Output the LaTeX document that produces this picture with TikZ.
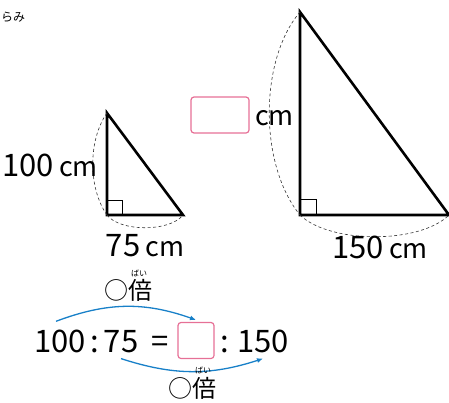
\documentclass[tikz,border=0pt]{standalone}
\usepackage{fontspec}
\setmainfont{Noto Sans CJK JP}
\usetikzlibrary{arrows.meta,positioning}

\definecolor{arrowblue}{RGB}{24,128,200}
\definecolor{boxpink}{RGB}{230,112,150}
\newcommand{\cmsize}{\fontsize{27}{27}\selectfont}

\begin{document}
\begin{tikzpicture}[
	x=1pt,y=-1pt,
	>=Latex,
	every node/.style={inner sep=0pt},
	big/.style={font=\fontsize{31}{31}\selectfont},
	ruby/.style={font=\fontsize{8}{8}\selectfont},
	times/.style={font=\fontsize{24}{24}\selectfont},
	ansbox/.style={draw=boxpink, line width=1.2pt, rounded corners=3pt},
	side/.style={line width=2.6pt, line join=miter},
	dimarc/.style={dash pattern=on 3pt off 2.5pt, line width=0.6pt, black!80},
	mult/.style={-{Latex[length=6pt,width=5pt]}, arrowblue, line width=1.3pt}
	]
	
	\useasboundingbox (0,0) rectangle (449,402);
	
	% --------------------------
	% text fragment at top left
	% --------------------------
	\node[anchor=west, font=\fontsize{12}{12}\selectfont] (frag) at (1,17) {らみ};
	
	% --------------------------
	% Small triangle
	% --------------------------
	\coordinate (a1) at (107,113);
	\coordinate (b1) at (107,215);
	\coordinate (c1) at (183,215);
	\draw[side] (a1) -- (b1) -- (c1) -- cycle;
	\draw[line width=0.9pt] ([yshift=15pt]b1) -| ([xshift=15pt]b1);
	
	% dimension arcs
	\draw[dimarc] (a1) .. controls (88,140) and (88,188) .. (b1);
	\draw[dimarc] (b1) .. controls (120,232) and (170,232) .. (c1);
	
	% labels
	\node[big, anchor=base east] (len100) at (98,176) {100\,{\cmsize cm}};
	\node[big, anchor=base] (len75) at (145,256) {75\,{\cmsize cm}};
	
	% --------------------------
	% Large triangle
	% --------------------------
	\coordinate (a2) at (300,12);
	\coordinate (b2) at (300,215);
	\coordinate (c2) at (449,215);
	\draw[side] (a2) -- (b2) -- (c2) -- cycle;
	\draw[line width=0.9pt] ([yshift=16pt]b2) -| ([xshift=16pt]b2);
	
	% dimension arcs
	\draw[dimarc] (a2) .. controls (259,60) and (259,165) .. (b2);
	\draw[dimarc] (b2) .. controls (330,244) and (420,244) .. (c2);
	
	% labels
	\node[ansbox, minimum width=58pt, minimum height=36pt] (side2) at (220,115) {};
	\node[anchor=base west, font=\cmsize] (unit2) at (255,125) {cm};
	\node[big, anchor=base] (len150) at (380,258) {150\,{\cmsize cm}};
	
	% --------------------------
	% Proportion
	% --------------------------
	\node[big, anchor=base] (n100) at (60,352) {100};
	\node[big, anchor=base] (colA) at (95,352) {:};
	\node[big, anchor=base] (n75) at (121,352) {75};
	\node[big, anchor=base] (eqs) at (160,352) {=};
	\node[ansbox, minimum width=36pt, minimum height=36pt] (ans) at (196,340.5) {};
	\node[big, anchor=base] (colB) at (225,352) {:};
	\node[big, anchor=base] (n150) at (263,352) {150};
	
	% multiplier arrows
	\draw[mult] ([xshift=-4pt,yshift=8pt]n100.north) to[bend left=20] ([yshift=2pt]ans.north);
	\draw[mult] ([yshift=-6pt]n75.south) to[bend right=18] ([yshift=-6pt]n150.south);
	
	\node[times] (timesA) at (128,290) {○倍};
	\node[ruby] (rubyA) at (139,273) {ばい};
	\node[times] (timesB) at (192,388) {○倍};
	\node[ruby] (rubyB) at (203,370) {ばい};
	
\end{tikzpicture}
\end{document}
